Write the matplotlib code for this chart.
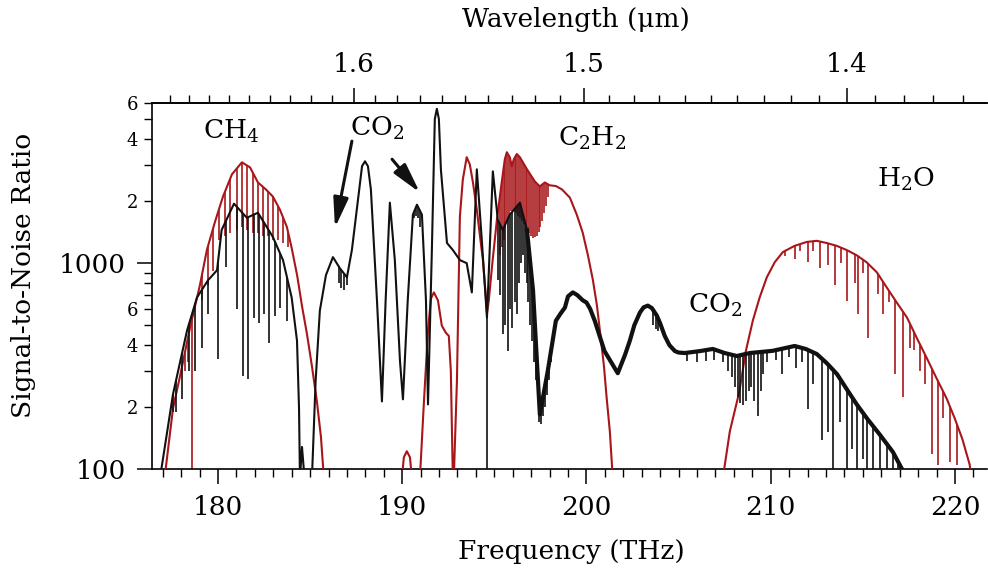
import numpy as np
import matplotlib
matplotlib.use("Agg")
import matplotlib.pyplot as plt
from matplotlib.patches import Polygon

plt.rcParams['font.family'] = 'DejaVu Serif'
plt.rcParams['mathtext.fontset'] = 'dejavuserif'

# black spectrum: smooth envelope (THz, SNR)
black_freq = [176.85, 177.56, 178.32, 178.86, 179.46, 179.95, 180.2, 180.87, 181.57, 182.17,
              182.98, 183.53, 184.0, 184.29, 184.4, 184.45, 184.56, 184.7, 185.1, 185.3,
              185.53, 185.86, 186.24, 186.62, 187.0, 187.27, 187.6, 187.82, 187.98, 188.14,
              188.3, 188.63, 188.9, 189.1, 189.33, 189.6, 189.88, 190.04, 190.3, 190.58,
              190.8, 191.07, 191.29, 191.4, 191.61, 191.77, 191.88, 191.99, 192.1, 192.43,
              192.75, 193.13, 193.5, 193.78, 194.05, 194.32, 194.6, 194.92, 195.19, 195.46,
              195.84, 196.39, 196.77, 197.1, 197.47, 197.9, 198.34, 198.6, 198.83, 199.0,
              199.26, 199.5, 199.8, 200.0, 200.2, 200.45, 200.98, 201.7, 202.1, 202.35,
              202.6, 202.9, 203.1, 203.33, 203.55, 203.82, 204.0, 204.25, 204.5, 204.8,
              205.0, 205.34, 206.16, 206.86, 207.5, 208.16, 208.87, 210.1, 211.3, 211.9,
              212.5, 213.04, 213.6, 214.13, 214.67, 215.27, 215.92, 216.63, 217.4]
black_snr = [90, 231, 470, 681, 826, 924, 1450, 1945, 1662, 1758,
             1341, 1035, 681, 420, 197, 90, 128, 90, 90, 267,
             588, 874, 1070, 944, 854, 1160, 2033, 2958, 3126, 2958,
             2282, 659, 213, 659, 1968, 1035, 334, 218, 659, 1720,
             1924, 1720, 659, 206, 1160, 5018, 5623, 5018, 2852, 1253,
             1158, 1035, 1000, 721, 2857, 1295, 544, 2793, 1621, 1451,
             1720, 1968, 1451, 737, 184, 299, 525, 570, 608, 690,
             721, 700, 660, 644, 600, 525, 374, 292, 360, 419,
             500, 575, 610, 622, 605, 556, 510, 443, 400, 374,
             368, 366, 374, 383, 366, 354, 366, 375, 396, 383,
             362, 327, 289, 244, 206, 174, 147, 121, 90]

# black absorption lines: position and depth
black_line_freq = [177.56, 177.72, 178.05, 178.43, 178.75, 179.13, 179.46, 180.0, 180.43, 181.03,
                   181.36, 181.63, 181.95, 182.22, 182.5, 182.77, 183.09, 183.36, 183.74,
                   186.55, 186.7, 186.85, 187.0,
                   190.55, 190.65, 190.75, 190.85, 190.95,
                   194.6,
                   195.19, 195.3, 195.46, 195.6, 195.73, 195.84, 195.95, 196.1, 196.22, 196.35, 196.45,
                   196.55, 196.65, 196.75, 196.85, 196.95, 197.05, 197.15, 197.25, 197.35, 197.45,
                   197.55, 197.65, 197.75, 197.85, 197.95, 198.05, 198.15, 198.25,
                   203.6, 203.75, 203.9,
                   205.45, 206.0, 206.5, 206.9, 207.4, 207.7,
                   207.9, 208.05, 208.2, 208.35, 208.5, 208.65, 208.8, 208.95, 209.1, 209.3, 209.45, 209.6,
                   209.8, 210.3, 210.6, 211.0, 211.4, 211.7, 212.0, 212.3, 212.8, 213.1,
                   213.4, 213.75, 214.13, 214.4, 214.67, 215.0, 215.2, 215.54, 215.92, 216.3,
                   216.63, 216.9, 217.1]
black_line_min = [190, 190, 220, 299, 299, 387, 567, 342, 955, 602,
                  282, 273, 544, 513, 567, 410, 556, 608, 525,
                  800, 760, 740, 780,
                  1500, 1650, 1700, 1650, 1500,
                  90,
                  830, 700, 452, 500, 374, 600, 485, 650, 567, 800, 1000,
                  1100, 900, 800, 650, 500, 420, 330, 270, 220, 170,
                  165, 180, 200, 230, 270, 330, 400, 450,
                  500, 480, 470,
                  335, 330, 335, 340, 330, 300,
                  280, 250, 225, 210, 205, 215, 240, 250, 215, 180, 240, 290,
                  330, 340, 289, 350, 309, 330, 195, 258, 139, 152,
                  90, 170, 90, 125, 90, 112, 90, 90, 90, 90,
                  90, 90, 90]

# red spectrum envelope
red_freq = [177.1, 177.56, 177.94, 178.48, 179.02, 179.4, 179.84, 180.27, 180.76, 181.3,
            181.74, 182.17, 182.6, 182.98, 183.36, 183.74, 184.0, 184.3, 184.56, 184.83,
            185.1, 185.37, 185.59, 185.75,
            189.98, 190.09, 190.25, 190.42, 190.53,
            190.96, 191.18, 191.4, 191.56, 191.72, 191.94, 192.15, 192.37, 192.53, 192.64,
            192.7, 192.75,
            192.8, 192.97, 193.13, 193.29, 193.5, 193.67, 193.84, 194.05, 194.2, 194.38,
            194.5, 194.6, 194.7, 194.87, 195.14, 195.4, 195.57, 195.68, 195.84, 195.95,
            196.06, 196.22, 196.39, 196.77, 197.2, 197.47, 197.74, 198.0, 198.34, 198.67,
            199.1, 199.48, 199.8, 200.08, 200.35, 200.57, 200.73, 200.95, 201.1, 201.27,
            201.43,
            207.4, 207.78, 208.3, 208.65, 209.03, 209.4, 209.79, 210.22, 210.66, 211.3,
            211.96, 212.5, 213.04, 213.58, 214.13, 214.67, 215.2, 215.76, 216.3, 216.84,
            217.4, 217.93, 218.47, 219.0, 219.55, 219.99, 220.4, 220.8, 220.9]
red_snr = [90, 197, 282, 485, 781, 1160, 1589, 2103, 2703, 3090,
           2920, 2466, 2282, 2107, 1821, 1500, 1186, 870, 620, 453,
           316, 213, 143, 90,
           90, 114, 122, 114, 90,
           90, 213, 470, 673, 721, 659, 497, 459, 443, 299,
           152, 90,
           90, 267, 1680, 2549, 3272, 3016, 2466, 1821, 1403, 1035,
           762, 569, 659, 955, 1626, 2466, 3199, 3460, 3268, 2958,
           3199, 3390, 3268, 2860, 2493, 2360, 2466, 2390, 2370, 2282,
           2082, 1716, 1403, 1092, 828, 622, 470, 316, 220, 152,
           90,
           90, 152, 238, 374, 526, 681, 854, 1011, 1132, 1214,
           1268, 1284, 1253, 1214, 1158, 1092, 1011, 903, 762, 644,
           544, 433, 346, 276, 220, 176, 140, 105, 90]

# red absorption lines
red_line_freq = [178.2, 178.4, 178.6, 179.13, 179.46, 179.73, 180.05, 180.38, 180.65, 181.03,
                 181.3, 181.57, 181.9, 182.17, 182.44, 182.71, 182.98, 183.25, 183.52, 183.8,
                 195.3, 195.4, 195.5, 195.6, 195.7, 195.8, 195.9, 196.0, 196.1, 196.2,
                 196.3, 196.4, 196.5, 196.6, 196.7, 196.8, 196.9, 197.0, 197.1, 197.2,
                 197.3, 197.4, 197.5, 197.6, 197.7, 197.8, 197.9,
                 210.8, 211.3, 211.6, 212.0, 212.3, 212.66, 213.1, 213.48, 213.8, 214.13,
                 214.56, 214.73, 215.0, 215.27, 215.81, 216.08, 216.4, 216.73, 217.17, 217.55,
                 217.8, 218.09, 218.4, 218.74, 219.07, 219.34, 219.72, 220.1]
red_line_min = [300, 330, 90, 660, 780, 920, 1300, 1350, 1400, 1450,
                1500, 1450, 1400, 1400, 1350, 1350, 1300, 1300, 1250, 1200,
                1100, 1200, 1300, 1500, 1600, 1700, 1800, 1800, 1800, 1750,
                1700, 1650, 1600, 1550, 1500, 1450, 1400, 1350, 1330, 1340,
                1360, 1420, 1500, 1600, 1750, 1900, 2100,
                1080, 1050, 1150, 1010, 1150, 944, 977, 780, 1000, 658,
                798, 569, 900, 433, 711, 569, 650, 289, 225, 387,
                380, 299, 260, 118, 105, 176, 108, 105]

# band labels: text, left x (THz), baseline (SNR)
band_text = [r'CH$_4$', r'CO$_2$', r'C$_2$H$_2$', r'H$_2$O', r'CO$_2$']
band_freq = [179.19, 187.16, 198.45, 215.76, 205.5]
band_snr = [4009, 4150, 3707, 2360, 575]

C_LIGHT = 299.792458  # um * THz


def thz_to_um(f):
    f = np.asarray(f, dtype=float)
    with np.errstate(divide='ignore', invalid='ignore'):
        return C_LIGHT / f


fig = plt.figure(figsize=(9.88, 5.74), dpi=100)
ax = fig.add_axes([152 / 988, 105 / 574, 835 / 988, 366 / 574])
ax.set_yscale('log')

dark_red = '#a8161a'
ink = '#111111'


def draw_spectrum(freq, snr, line_freq, line_min, color, zorder):
    freq = np.asarray(freq)
    snr = np.asarray(snr)
    ax.plot(freq, snr, color=color, lw=1.5, zorder=zorder + 1)
    # absorption lines hang down from the envelope: clip them to the area under it
    under = Polygon(np.column_stack([np.r_[freq, freq[-1], freq[0]],
                                     np.r_[snr, 1.0, 1.0]]),
                    closed=True, transform=ax.transData)
    lines = ax.vlines(line_freq, line_min, 1e5, colors=color, lw=1.2, zorder=zorder)
    lines.set_clip_path(under)
    return freq, snr


draw_spectrum(red_freq, red_snr, red_line_freq, red_line_min, dark_red, 2)
bf, bs = draw_spectrum(black_freq, black_snr, black_line_freq, black_line_min, ink, 4)
# the CO2 band trace is densely packed with lines and looks heavier
dense = bf >= 196.5
ax.plot(bf[dense], bs[dense], color=ink, lw=3.0, zorder=5)

ax.set_xlim(176.42, 221.74)
ax.set_ylim(100, 6000)

ax.set_xticks([180, 190, 200, 210, 220])
ax.set_xticks(np.arange(177, 222, 1), minor=True)
ax.set_yticks([100, 1000], labels=['100', '1000'])
minor_y = [200, 300, 400, 500, 600, 700, 800, 900, 2000, 3000, 4000, 5000, 6000]
minor_lab = ['2', '', '4', '', '6', '', '', '', '2', '', '4', '', '6']
ax.set_yticks(minor_y, labels=minor_lab, minor=True)

ax.tick_params(which='major', direction='out', length=11, width=1.1, labelsize=19, pad=8)
ax.tick_params(which='minor', direction='out', length=6, width=1.0, labelsize=13, pad=4)
ax.tick_params(axis='x', which='minor', labelbottom=False)
ax.spines['right'].set_visible(False)
for s in ['left', 'bottom', 'top']:
    ax.spines[s].set_linewidth(1.2)

top = ax.secondary_xaxis('top', functions=(thz_to_um, thz_to_um))
top.set_xticks([1.4, 1.5, 1.6], labels=['1.4', '1.5', '1.6'])
top.set_xticks(np.round(np.arange(1.36, 1.70, 0.01), 2), minor=True)
top.tick_params(which='major', direction='out', length=11, width=1.1, labelsize=19, pad=8)
top.tick_params(which='minor', direction='out', length=6, width=1.0)
top.spines['top'].set_linewidth(1.2)

for txt, f, s in zip(band_text, band_freq, band_snr):
    ax.text(f, s, txt, fontsize=19, ha='left', va='baseline', zorder=8)

# arrows pointing at the two CO2 bands
arrow = dict(arrowstyle='-|>,head_length=1.0,head_width=0.25', lw=2.2, color=ink,
             mutation_scale=18, shrinkA=0, shrinkB=0)
ax.annotate('', xy=(186.35, 1485), xytext=(187.27, 3917), arrowprops=arrow, zorder=8)
ax.annotate('', xy=(190.96, 2203), xytext=(189.45, 3199), arrowprops=arrow, zorder=8)

fig.text(576 / 988, 1 - 20 / 574, 'Wavelength (μm)', fontsize=19, ha='center', va='center')
fig.text(571 / 988, 1 - 551 / 574, 'Frequency (THz)', fontsize=19, ha='center', va='center')
fig.text(24 / 988, 1 - 275 / 574, 'Signal-to-Noise Ratio', fontsize=19, rotation=90,
         ha='center', va='center')

fig.savefig('out.png', dpi=100, facecolor='white')
